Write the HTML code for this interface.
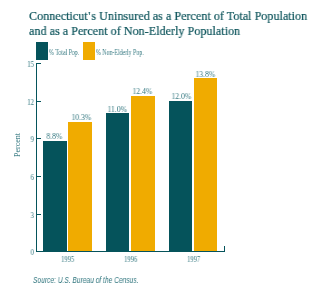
<!DOCTYPE html>
<html><head><meta charset="utf-8">
<style>
html,body{margin:0;padding:0;background:#fff;}
body{width:313px;height:291px;position:relative;overflow:hidden;-webkit-font-smoothing:antialiased;}
.t{position:absolute;white-space:nowrap;will-change:transform;transform-origin:0 0;}
.title{font-family:"Liberation Serif",serif;font-size:13.4px;color:#0e555c;-webkit-text-stroke:0.22px #0e555c;left:29px;line-height:15px;transform:scaleX(0.907);}
.sm{font-family:"Liberation Serif",serif;font-size:8px;line-height:8px;color:#347880;transform:scaleX(0.95);transform-origin:50% 0;}
.pc{font-family:"Liberation Serif",serif;font-size:8px;line-height:8px;color:#347880;transform:rotate(-90deg);}
.lg{font-family:"Liberation Serif",serif;font-size:7.5px;line-height:8px;color:#347880;transform:scaleX(0.78);}
.ax{font-family:"Liberation Serif",serif;font-size:8px;line-height:8px;color:#347880;width:20px;text-align:right;left:13.6px;transform:scaleX(0.85);transform-origin:100% 0;}
.yr{font-family:"Liberation Serif",serif;font-size:7.5px;line-height:8px;color:#347880;transform:scaleX(0.88);}
.r{position:absolute;}
.teal{background:#05535b;}
.yel{background:#f0ab00;}
</style></head><body>
<div class="t title" style="top:8px;">Connecticut<span style="margin:0 1px 0 0.6px">'</span>s Uninsured as a Percent of Total Population</div>
<div class="t title" style="top:23px;">and as a Percent of Non-Elderly Population</div>

<div class="r teal" style="left:36px;top:42px;width:12px;height:18px;"></div>
<div class="t lg" style="left:49px;top:48.5px;">% Total Pop.</div>
<div class="r yel" style="left:83px;top:42px;width:12px;height:18px;"></div>
<div class="t lg" style="left:96px;top:48.5px;">% Non-Elderly Pop.</div>

<!-- axis -->
<div class="r teal" style="left:36px;top:63px;width:1px;height:189px;"></div>
<div class="r teal" style="left:36px;top:251px;width:189px;height:1px;"></div>
<div class="r teal" style="left:224px;top:246px;width:1px;height:6px;"></div>
<div class="r teal" style="left:36px;top:63px;width:5px;height:1px;"></div>
<div class="r teal" style="left:36px;top:101px;width:5px;height:1px;"></div>
<div class="r teal" style="left:36px;top:138px;width:5px;height:1px;"></div>
<div class="r teal" style="left:36px;top:176px;width:5px;height:1px;"></div>
<div class="r teal" style="left:36px;top:214px;width:5px;height:1px;"></div>

<div class="t ax" style="top:61px;">15</div>
<div class="t ax" style="top:99px;">12</div>
<div class="t ax" style="top:136px;">9</div>
<div class="t ax" style="top:174px;">6</div>
<div class="t ax" style="top:212px;">3</div>
<div class="t ax" style="top:249px;">0</div>

<div class="t pc" style="left:14px;top:157px;">Percent</div>

<!-- bars -->
<div class="r teal" style="left:43px;top:141px;width:24px;height:110px;"></div>
<div class="r yel" style="left:68px;top:122px;width:24px;height:129px;"></div>
<div class="r teal" style="left:106px;top:113px;width:23px;height:138px;"></div>
<div class="r yel" style="left:131px;top:96px;width:24px;height:155px;"></div>
<div class="r teal" style="left:169px;top:101px;width:23px;height:150px;"></div>
<div class="r yel" style="left:194px;top:78px;width:23px;height:173px;"></div>

<div class="t sm" style="left:46px;top:133px;">8.8%</div>
<div class="t sm" style="left:70.5px;top:114px;">10.3%</div>
<div class="t sm" style="left:107px;top:105.5px;">11.0%</div>
<div class="t sm" style="left:131.5px;top:88px;">12.4%</div>
<div class="t sm" style="left:170.5px;top:93px;">12.0%</div>
<div class="t sm" style="left:195px;top:71px;">13.8%</div>

<div class="t yr" style="left:61px;top:256px;">1995</div>
<div class="t yr" style="left:124px;top:256px;">1996</div>
<div class="t yr" style="left:186.5px;top:256px;">1997</div>

<div class="t" style="left:33px;top:276px;font-family:'Liberation Sans',sans-serif;font-style:italic;font-size:8.3px;line-height:9px;color:#347880;transform:scaleX(0.8);">Source: U.S. Bureau of the Census.</div>
</body></html>
